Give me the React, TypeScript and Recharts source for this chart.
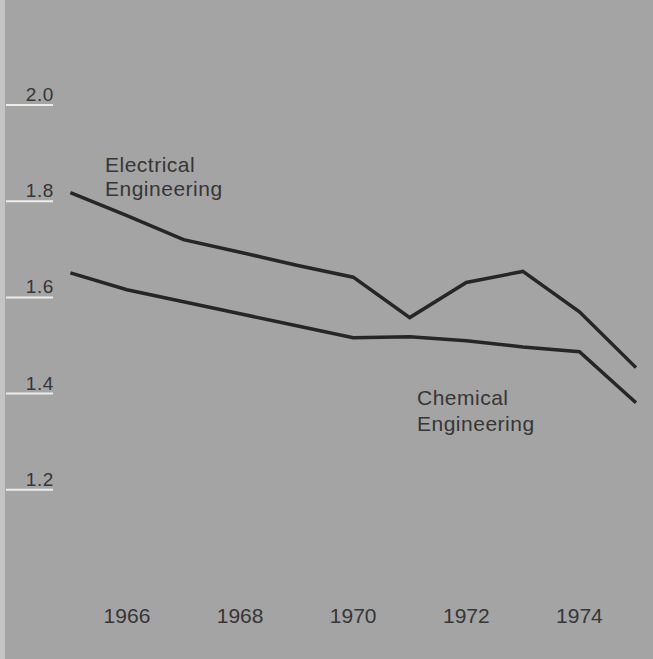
import React from "react";
import { LineChart, Line, XAxis, YAxis } from "recharts";

const years = [1965, 1966, 1967, 1968, 1969, 1970, 1971, 1972, 1973, 1974, 1975];
const electrical = [1.818, 1.77, 1.72, 1.694, 1.667, 1.642, 1.558, 1.631, 1.654, 1.57, 1.454];
const chemical = [1.651, 1.616, 1.591, 1.566, 1.541, 1.516, 1.518, 1.51, 1.497, 1.487, 1.381];
const xTicks = [1966, 1968, 1970, 1972, 1974];
const yTicks = [1.2, 1.4, 1.6, 1.8, 2.0];
const seriesLabels = { electrical: ["Electrical", "Engineering"], chemical: ["Chemical", "Engineering"] };

const data = years.map((y, i) => ({ year: y, electrical: electrical[i], chemical: chemical[i] }));

const FONT = "'Liberation Sans', Arial, Helvetica, sans-serif";
const TEXT = "#363636";

const YTick = (props: any) => {
  const { y, payload } = props;
  return (
    <g>
      <line x1={6} x2={53} y1={y} y2={y} stroke="#ececec" strokeWidth={2} />
      <text x={54} y={y - 4} textAnchor="end" fill={TEXT} fontSize={19} letterSpacing={0.6} fontFamily={FONT}>
        {Number(payload.value).toFixed(1)}
      </text>
    </g>
  );
};

const XTick = (props: any) => {
  const { x, y, payload } = props;
  return (
    <text x={x} y={y + 29} textAnchor="middle" fill={TEXT} fontSize={21} fontFamily={FONT}>
      {payload.value}
    </text>
  );
};

export default function App() {
  return (
    <div style={{ position: "absolute", left: 0, top: 0, width: 653, height: 659, background: "#a4a4a4", overflow: "hidden" }}>
      <div style={{ position: "absolute", left: 0, top: 0, width: 5, height: 659, background: "#c4c4c4" }} />
      <LineChart width={653} height={659} data={data} margin={{ top: 8.8, right: 17, left: 0, bottom: 0 }}>
        <XAxis
          dataKey="year"
          type="number"
          domain={[1965, 1975]}
          ticks={xTicks}
          axisLine={false}
          tickLine={false}
          height={73}
          tick={<XTick />}
          interval={0}
        />
        <YAxis
          type="number"
          domain={[1.0, 2.2]}
          ticks={yTicks}
          axisLine={false}
          tickLine={false}
          width={70.4}
          tick={<YTick />}
          interval={0}
        />
        <Line dataKey="electrical" stroke="#262626" strokeWidth={3.5} dot={false} isAnimationActive={false} type="linear" />
        <Line dataKey="chemical" stroke="#262626" strokeWidth={3.5} dot={false} isAnimationActive={false} type="linear" />
      </LineChart>
      <svg width={653} height={659} style={{ position: "absolute", left: 0, top: 0, pointerEvents: "none" }}>
        <text x={105} y={172} fill={TEXT} fontSize={21} letterSpacing={0.5} fontFamily={FONT}>{seriesLabels.electrical[0]}</text>
        <text x={105} y={196} fill={TEXT} fontSize={21} letterSpacing={0.5} fontFamily={FONT}>{seriesLabels.electrical[1]}</text>
        <text x={417} y={405} fill={TEXT} fontSize={21} letterSpacing={0.5} fontFamily={FONT}>{seriesLabels.chemical[0]}</text>
        <text x={417} y={431} fill={TEXT} fontSize={21} letterSpacing={0.5} fontFamily={FONT}>{seriesLabels.chemical[1]}</text>
      </svg>
    </div>
  );
}
